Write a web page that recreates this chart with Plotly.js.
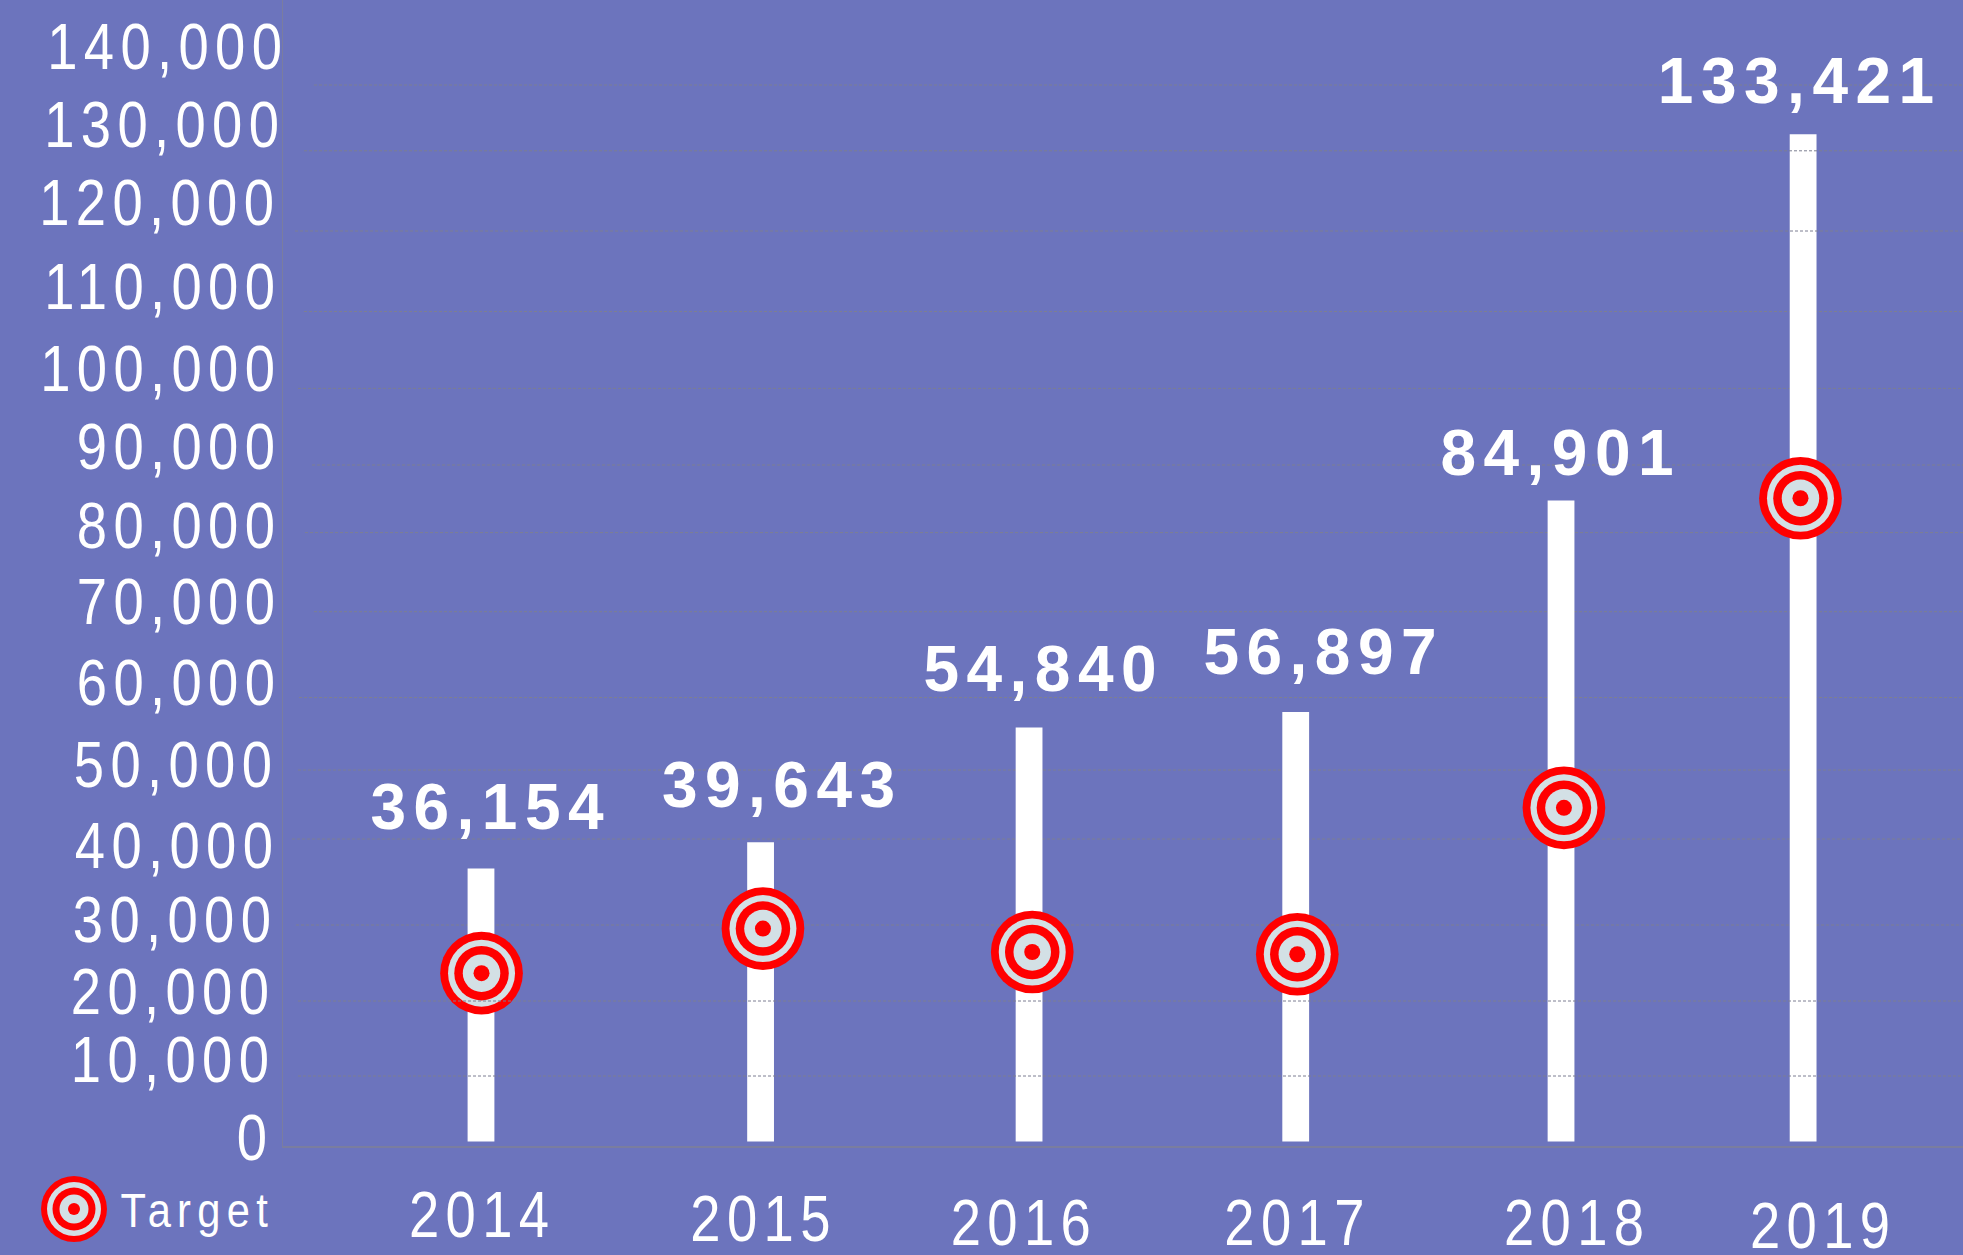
<!DOCTYPE html>
<html>
<head>
<meta charset="utf-8">
<script src="https://cdn.plot.ly/plotly-3.0.1.min.js"></script>
<style>
html,body{margin:0;padding:0;background:#6c74bd;overflow:hidden}
#chart{width:1963px;height:1255px}
</style>
</head>
<body>
<div id="chart"></div>
<script>
// ---- data ----
const years = ['2014','2015','2016','2017','2018','2019'];
const actualValues = [36154,39643,54840,56897,84901,133421];
const targetValues = [22300,28200,25100,24800,44200,85200];
const barX = [2014,2015.059,2016.076,2017.086,2018.091,2019.008];
const targetX = [2014.002,2015.068,2016.088,2017.092,2018.102,2018.998];
const tickLabels = ['0','10,000','20,000','30,000','40,000','50,000','60,000','70,000','80,000','90,000','100,000','110,000','120,000','130,000','140,000'];

// ---- where the drawn (slightly hand-warped) furniture sits, in page pixels ----
const tickLabelY = [1137.5,1060,992,920,846,765,683,602,526,447,369,287,203,125,47];
const tickLabelRight = [267,269,269,271,273,272,275,275,275,275,275,275,274,279,282];
const gridY = [1076,1001,925,839,770,697.5,611.7,532.6,465,388.4,311.5,231,150.8,85];
const gridStart = [298,298,296,292,298,299,314,305,312,298,304,295,304,314];
const gridOverBars = [true,true,false,false,false,false,false,false,false,false,false,true,true,false];
const yearLabelX = [479,760.4,1020.7,1294.4,1574,1820];
const yearLabelY = [1215,1218.5,1223,1223,1223,1226];
const valueLabelX = [487,778.5,1040,1320,1557,1796];
const valueLabelY = [807,785,669,652,453,81];
const legendLabelLeft = 120.5, legendLabelY = 1209.5;

// ---- target glyph ----
const ringColors = ['#ff0000','#d3e0e5','#ff0000','#d3e0e5','#ff0000'];
const ringSizes = [82.7,67,54.5,37.5,16];
const legendRingSizes = [66,54,43,29,12];
const legendKeyX = [74], legendKeyY = [63];

// ---- geometry ----
const W = 1963, H = 1255, L = 283, B = 109;
const xRange = [2013.25,2019.6136];
const yRange = [-596,151192];
const zeroPx = 1141.5, pxPerUnit = 0.00755;
const pxToY = p => (zeroPx - p) / pxPerUnit;
const paperX = p => p / W;
const paperY = p => (H - p) / H;

const WHITE = '#ffffff';
const regular = '"Liberation Sans",Arial,sans-serif';

const traces = [{
  type:'bar', x:barX, y:actualValues, width:0.1015, name:'Actual',
  marker:{color:WHITE, line:{width:0}}, showlegend:false, hoverinfo:'y'
}];
ringColors.forEach((c,i)=>{
  traces.push({type:'scatter', mode:'markers', x:targetX, y:targetValues, name:'Target',
    marker:{color:c, size:ringSizes[i], line:{width:0}}, showlegend:false, cliponaxis:false, hoverinfo:i===0?'y':'skip'});
});
// the key sits in its own small invisible subplot under the y labels
ringColors.forEach((c,i)=>{
  traces.push({type:'scatter', mode:'markers', x:legendKeyX, y:legendKeyY, xaxis:'x2', yaxis:'y2', name:'Target',
    marker:{color:c, size:legendRingSizes[i], line:{width:0}}, showlegend:false, cliponaxis:false, hoverinfo:'skip'});
});

// text styles the reference uses: narrowed, letter-spaced type
const NARROW = {scale:0.85, spacing:7.5};
const BOLD = {scale:1, spacing:7.5};
const LEGEND = {scale:0.85, spacing:7.4};

const annotations = [], fit = [];
function addLabel(text, px, py, align, size, bold, style){
  annotations.push({
    text, xref:'paper', yref:'paper', x:paperX(px), y:paperY(py),
    xanchor:align, yanchor:'middle', showarrow:false,
    font:{family:regular, size, color:WHITE, weight:bold?700:400}
  });
  fit.push({px, align, style});
}
tickLabels.forEach((t,i)=>addLabel(t, tickLabelRight[i], tickLabelY[i], 'right', 64, false, NARROW));
years.forEach((t,i)=>addLabel(t, yearLabelX[i], yearLabelY[i], 'center', 64, false, NARROW));
actualValues.forEach((v,i)=>addLabel(v.toLocaleString('en-US'), valueLabelX[i], valueLabelY[i], 'center', 64, true, BOLD));
addLabel('Target', legendLabelLeft, legendLabelY, 'left', 49, false, LEGEND);

const shapes = gridY.map((p,i)=>({
  type:'line', xref:'paper', yref:'y',
  x0:paperX(gridStart[i]), x1:1, y0:pxToY(p), y1:pxToY(p),
  layer:gridOverBars[i]?'above':'below',
  line:{color:'#7d7f92', width:1, dash:'3px,2px'}
}));

const hidden = {showgrid:false, zeroline:false, showticklabels:false, ticks:'', showline:false, fixedrange:true};

Plotly.newPlot('chart', traces, {
  width:W, height:H,
  margin:{l:0, r:0, t:0, b:0, pad:0},
  paper_bgcolor:'#6c74bd', plot_bgcolor:'rgba(0,0,0,0)',
  showlegend:false,
  xaxis:{domain:[L/W,1], anchor:'y', range:xRange, showgrid:false, zeroline:false, showticklabels:false, ticks:'',
         showline:true, linecolor:'#7a7d9f', linewidth:1.5},
  yaxis:{domain:[B/H,1], anchor:'x', range:yRange, showgrid:false, zeroline:false, showticklabels:false, ticks:'',
         showline:true, linecolor:'#7a7d9f', linewidth:1.5},
  xaxis2:Object.assign({domain:[0,L/W], anchor:'y2', range:[0,L]}, hidden),
  yaxis2:Object.assign({domain:[0,B/H], anchor:'x2', range:[B,0]}, hidden),
  annotations, shapes
}, {displayModeBar:false, staticPlot:true}).then(gd=>{
  // Plotly has no letter-spacing or narrow type: apply both to the drawn text.
  gd.querySelectorAll('.annotation').forEach(g=>{
    const f = fit[+g.getAttribute('data-index')];
    const t = g.querySelector('text');
    if(!f || !t) return;
    t.style.letterSpacing = f.style.spacing + 'px';
    const b = t.getBBox();
    const ink = b.width - f.style.spacing;
    const m = t.parentNode.getScreenCTM();
    const target = f.px - m.e;
    const s = f.style.scale;
    const ref = f.align==='right' ? b.x+ink : f.align==='center' ? b.x+ink/2 : b.x;
    t.setAttribute('transform', `translate(${target - s*ref},0) scale(${s},1)`);
  });
});
</script>
</body>
</html>
